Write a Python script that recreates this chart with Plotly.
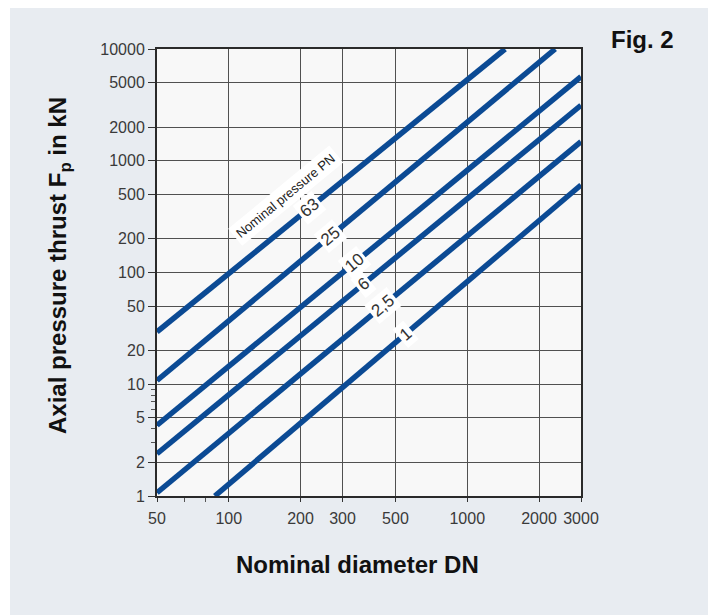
import numpy as np
import plotly.graph_objects as go

# Data (log-log straight lines: start and end points)
pn_labels = ["63", "25", "10", "6", "2,5", "1"]
dn_start = [50, 50, 50, 50, 50, 87.4]
dn_end = [1441, 2338, 3000, 3000, 3000, 3000]
f_start = [29.4, 10.8, 4.3, 2.39, 1.07, 1.0]
f_end = [10000, 10000, 5650, 3135, 1480, 607]
label_dn = [219, 266, 338, 366, 444, 550]

x_ticks = [50, 100, 200, 300, 500, 1000, 2000, 3000]
y_ticks = [1, 2, 5, 10, 20, 50, 100, 200, 500, 1000, 2000, 5000, 10000]
x_minor = [65, 80]
y_minor = [3, 4, 6, 7, 8, 9]

LINE = "#0b4a94"
FONT = "Liberation Sans, Arial, Helvetica, sans-serif"
W, H = 708, 615
L, R, T, B = 157, 127, 49, 119
pw, ph = W - L - R, H - T - B


def px(xp):
    return (xp - L) / pw


def py(yp):
    return (H - B - yp) / ph


fig = go.Figure()

for i in range(len(pn_labels)):
    fig.add_trace(go.Scatter(
        x=[dn_start[i], dn_end[i]], y=[f_start[i], f_end[i]],
        mode="lines", line=dict(color=LINE, width=5.5),
        hoverinfo="skip", showlegend=False))

pxd_x = pw / (np.log10(3000) - np.log10(50))
pxd_y = ph / 4.0

annotations = []
for i, lab in enumerate(pn_labels):
    lx0, lx1 = np.log10(dn_start[i]), np.log10(dn_end[i])
    ly0, ly1 = np.log10(f_start[i]), np.log10(f_end[i])
    slope = (ly1 - ly0) / (lx1 - lx0)
    lx = np.log10(label_dn[i])
    ly = ly0 + slope * (lx - lx0)
    ang = -np.degrees(np.arctan(slope * pxd_y / pxd_x))
    annotations.append(dict(
        x=lx, y=ly, xref="x", yref="y", text=lab, showarrow=False,
        textangle=ang, bgcolor="#ffffff", borderpad=2,
        xanchor="center", yanchor="middle",
        font=dict(family=FONT, size=17, color="#333333")))

annotations.append(dict(
    x=np.log10(174), y=np.log10(484), xref="x", yref="y",
    text="Nominal pressure PN", showarrow=False, textangle=-39.5,
    bgcolor="#ffffff", borderpad=3, xanchor="center", yanchor="middle",
    font=dict(family=FONT, size=13, color="#222222")))

annotations.append(dict(
    x=px(642), y=py(39), xref="paper", yref="paper", text="<b>Fig. 2</b>",
    showarrow=False, xanchor="center", yanchor="middle",
    font=dict(family=FONT, size=24, color="#111111")))
annotations.append(dict(
    x=px(357), y=py(564), xref="paper", yref="paper",
    text="<b>Nominal diameter DN</b>", showarrow=False,
    xanchor="center", yanchor="middle",
    font=dict(family=FONT, size=24, color="#111111")))
annotations.append(dict(
    x=px(59), y=py(266), xref="paper", yref="paper",
    text="<b>Axial pressure thrust F<sub>p</sub> in kN</b>", showarrow=False,
    textangle=-90, xanchor="center", yanchor="middle",
    font=dict(family=FONT, size=24, color="#111111")))

shapes = [
    dict(type="rect", xref="paper", yref="paper", layer="below",
         x0=px(10), x1=px(W), y0=py(H), y1=py(8),
         fillcolor="#e8ecf1", line=dict(width=0)),
    dict(type="rect", xref="paper", yref="paper", layer="below",
         x0=0, x1=1, y0=0, y1=1, fillcolor="#f8f8f8", line=dict(width=0)),
]

fig.update_layout(
    width=W, height=H,
    margin=dict(l=L, r=R, t=T, b=B),
    paper_bgcolor="#ffffff", plot_bgcolor="#f8f8f8",
    annotations=annotations, shapes=shapes,
    font=dict(family=FONT, size=16, color="#333333"),
)
fig.update_xaxes(
    type="log", range=[np.log10(50), np.log10(3000)],
    tickvals=x_ticks, ticktext=[str(v) for v in x_ticks],
    showgrid=True, gridcolor="#505050", gridwidth=1.2,
    ticks="outside", ticklen=4, tickcolor="#333333", ticklabelstandoff=3,
    minor=dict(tickvals=x_minor, ticks="outside", ticklen=4,
               tickcolor="#555555", showgrid=False),
    showline=True, linecolor="#2a2a2a", linewidth=2, mirror=True,
    zeroline=False, tickfont=dict(family=FONT, size=16, color="#3a3a3a"))
fig.update_yaxes(
    type="log", range=[0, 4],
    tickvals=y_ticks, ticktext=[str(v) for v in y_ticks],
    showgrid=True, gridcolor="#505050", gridwidth=1.2,
    ticks="outside", ticklen=7, tickcolor="#333333",
    minor=dict(tickvals=y_minor, ticks="outside", ticklen=4,
               tickcolor="#555555", showgrid=False),
    showline=True, linecolor="#2a2a2a", linewidth=2, mirror=True,
    zeroline=False, tickfont=dict(family=FONT, size=16, color="#3a3a3a"))

fig.write_html(
    "out.html",
    config={"displayModeBar": False},
    post_script="document.body.style.margin='0';document.body.style.overflow='hidden';")
